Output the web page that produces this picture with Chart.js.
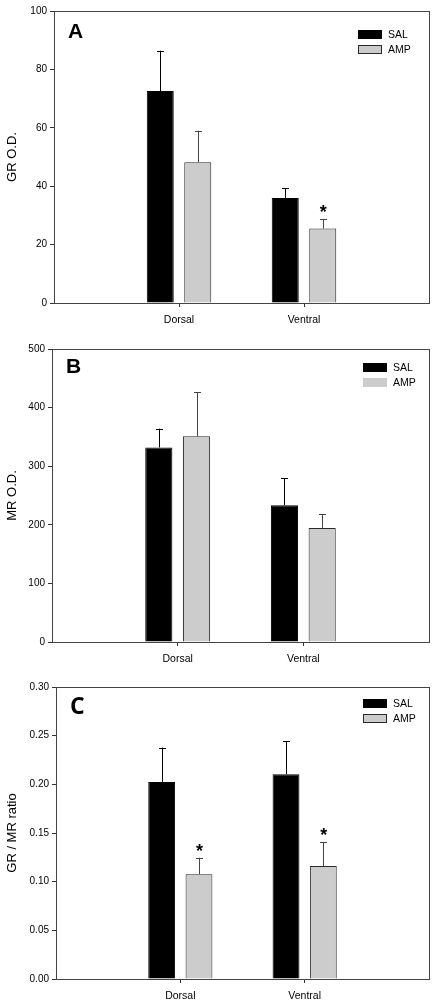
<!DOCTYPE html>
<html>
<head>
<meta charset="utf-8">
<script src="https://cdn.jsdelivr.net/npm/chart.js@4.4.1/dist/chart.umd.min.js"></script>
<style>
body { margin: 0; background: #fff; width: 437px; height: 1006px; position: relative; overflow: hidden; }
.panel { position: absolute; left: 0; width: 437px; }
</style>
</head>
<body>
<div class="panel" style="top:0;height:336px"><canvas id="chartA"></canvas></div>
<div class="panel" style="top:330px;height:345px"><canvas id="chartB"></canvas></div>
<div class="panel" style="top:660px;height:346px"><canvas id="chartC"></canvas></div>
<script>
// regions (empty labels pad the axis so the groups sit at 1/3 and 2/3)
var regions = ['', 'Dorsal', 'Ventral', ''];
var groups = ['SAL', 'AMP'];

// panel A - GR optical density
var grSal = [72.6, 36.0];
var grSalErr = [13.8, 3.3];
var grAmp = [48.2, 25.5];
var grAmpErr = [10.8, 3.3];
var grAmpSig = [false, true];

// panel B - MR optical density
var mrSal = [332, 233.5];
var mrSalErr = [32, 46];
var mrAmp = [351, 194.7];
var mrAmpErr = [75, 23];
var mrAmpSig = [false, false];

// panel C - GR / MR ratio
var ratioSal = [0.2025, 0.2104];
var ratioSalErr = [0.0353, 0.0342];
var ratioAmp = [0.1076, 0.1161];
var ratioAmpErr = [0.017, 0.0243];
var ratioAmpSig = [true, true];

function pad(arr) {
  return [null].concat(arr).concat([null]);
}

var extras = {
  id: 'extras',
  afterDatasetsDraw: function(chart, args, opts) {
    var ctx = chart.ctx;
    var a = chart.chartArea;
    var y = chart.scales.y;
    ctx.save();

    // error bars (upper whisker only) and significance stars
    chart.data.datasets.forEach(function(ds, di) {
      var meta = chart.getDatasetMeta(di);
      meta.data.forEach(function(bar, i) {
        var v = ds.data[i];
        if (v === null) return;
        var e = ds.errors[i - 1];
        var top = y.getPixelForValue(v + e);
        ctx.strokeStyle = ds.errColor;
        ctx.lineWidth = 1;
        ctx.beginPath();
        ctx.moveTo(Math.round(bar.x) + 0.5, bar.y);
        ctx.lineTo(Math.round(bar.x) + 0.5, top);
        ctx.moveTo(Math.round(bar.x) - 3, Math.round(top) + 0.5);
        ctx.lineTo(Math.round(bar.x) + 4, Math.round(top) + 0.5);
        ctx.stroke();
        if (ds.sig && ds.sig[i - 1]) {
          ctx.fillStyle = '#000';
          ctx.font = 'bold 18px "Liberation Sans", Arial, sans-serif';
          ctx.textAlign = 'center';
          ctx.textBaseline = 'middle';
          ctx.fillText('*', bar.x + 0.5, top - 6);
        }
      });
    });

    // frame
    ctx.strokeStyle = '#444';
    ctx.lineWidth = 1;
    ctx.strokeRect(Math.round(a.left) + 0.5, Math.round(a.top) + 0.5,
      Math.round(a.right - a.left), Math.round(a.bottom - a.top));

    // panel letter
    ctx.fillStyle = '#000';
    ctx.font = opts.letterFont;
    ctx.textAlign = 'left';
    ctx.textBaseline = 'top';
    ctx.fillText(opts.letter, a.left + 14, a.top + opts.letterDy);

    // legend
    var lx = a.right - opts.legendDx;
    var ly = a.top + opts.legendDy;
    chart.data.datasets.forEach(function(ds, di) {
      var by = ly + di * 15;
      ctx.fillStyle = ds.backgroundColor;
      ctx.fillRect(lx, by, 24, 9);
      if (opts.legendBorder || di === 0) {
        ctx.strokeStyle = ds.borderColor;
        ctx.strokeRect(lx + 0.5, by + 0.5, 23, 8);
      }
      ctx.fillStyle = '#000';
      ctx.font = '10.5px "Liberation Sans", Arial, sans-serif';
      ctx.textBaseline = 'middle';
      ctx.fillText(ds.label, lx + 30, by + 5);
    });
    ctx.restore();
  }
};

function makeChart(id, cfg) {
  return new Chart(document.getElementById(id), {
    type: 'bar',
    data: {
      labels: regions,
      datasets: [
        {
          label: groups[0],
          data: pad(cfg.sal),
          errors: cfg.salErr,
          errColor: '#000',
          backgroundColor: '#000000',
          borderColor: '#000000',
          borderWidth: 1
        },
        {
          label: groups[1],
          data: pad(cfg.amp),
          errors: cfg.ampErr,
          sig: cfg.ampSig,
          errColor: '#444',
          backgroundColor: '#cccccc',
          borderColor: '#2a2a2a',
          borderWidth: 1
        }
      ]
    },
    options: {
      responsive: true,
      maintainAspectRatio: false,
      animation: false,
      categoryPercentage: 0.6,
      barPercentage: 0.72,
      layout: { padding: { top: cfg.padTop, right: 8, left: 0, bottom: 0 } },
      plugins: {
        legend: { display: false },
        tooltip: { enabled: false },
        extras: cfg.extras
      },
      scales: {
        x: {
          offset: false,
          grid: {
            offset: false,
            drawOnChartArea: false,
            tickLength: 4,
            tickColor: function(c) { return (c.index === 0 || c.index === 3) ? 'rgba(0,0,0,0)' : '#333'; }
          },
          border: { color: '#222' },
          ticks: {
            autoSkip: false,
            maxRotation: 0,
            padding: 7,
            color: '#000',
            font: { family: '"Liberation Sans", Arial, sans-serif', size: 10.5 }
          },
          afterFit: function(s) { s.height = cfg.xHeight; }
        },
        y: {
          min: 0,
          max: cfg.max,
          grid: { drawOnChartArea: false, tickLength: 4, tickColor: '#333' },
          border: { color: '#222' },
          ticks: {
            stepSize: cfg.step,
            padding: 3,
            color: '#000',
            font: { family: '"Liberation Sans", Arial, sans-serif', size: 10 },
            callback: function(v) { return cfg.decimals ? v.toFixed(cfg.decimals) : v; }
          },
          title: {
            display: true,
            text: cfg.title,
            color: '#000',
            padding: { top: 5, bottom: 4 },
            font: { family: '"Liberation Sans", Arial, sans-serif', size: 13 }
          },
          afterFit: function(s) { s.width = cfg.yWidth; }
        }
      }
    },
    plugins: [extras]
  });
}

makeChart('chartA', {
  sal: grSal, salErr: grSalErr, amp: grAmp, ampErr: grAmpErr, ampSig: grAmpSig,
  max: 100, step: 20, decimals: 0, title: 'GR O.D.',
  padTop: 11, xHeight: 33, yWidth: 54,
  extras: { letter: 'A', letterFont: 'bold 21px "Liberation Sans", Arial, sans-serif', letterDy: 11,
    legendDx: 71, legendDy: 19, legendBorder: true }
});

makeChart('chartB', {
  sal: mrSal, salErr: mrSalErr, amp: mrAmp, ampErr: mrAmpErr, ampSig: mrAmpSig,
  max: 500, step: 100, decimals: 0, title: 'MR O.D.',
  padTop: 19, xHeight: 33, yWidth: 52,
  extras: { letter: 'B', letterFont: 'bold 21px "Liberation Sans", Arial, sans-serif', letterDy: 8,
    legendDx: 66, legendDy: 14, legendBorder: false }
});

makeChart('chartC', {
  sal: ratioSal, salErr: ratioSalErr, amp: ratioAmp, ampErr: ratioAmpErr, ampSig: ratioAmpSig,
  max: 0.30, step: 0.05, decimals: 2, title: 'GR / MR ratio',
  padTop: 27, xHeight: 27, yWidth: 56,
  extras: { letter: 'C', letterFont: 'bold 23px "Open Sans", "Noto Sans", sans-serif', letterDy: 9,
    legendDx: 66, legendDy: 12, legendBorder: true }
});
</script>
</body>
</html>
